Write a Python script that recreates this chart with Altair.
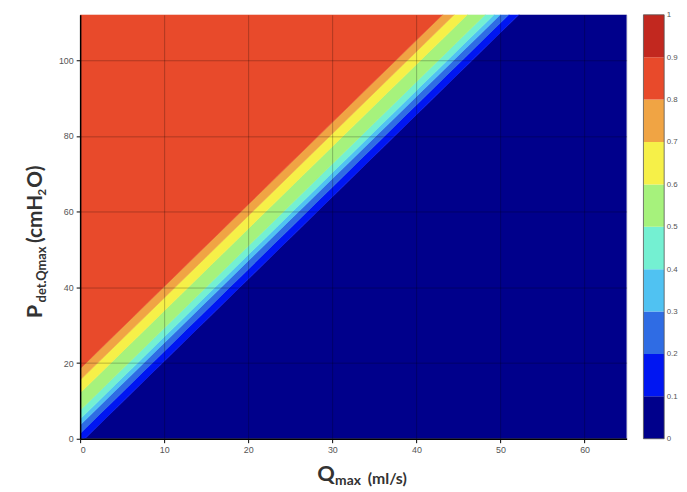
import altair as alt
import pandas as pd

# ---- data ----
x_max = 65          # Qmax axis extent (ml/s)
y_max = 112         # Pdet axis extent (cmH2O)
x_ticks = [0, 10, 20, 30, 40, 50, 60]
y_ticks = [0, 20, 40, 60, 80, 100]

# contour thresholds and the P-intercept (at Q = 0) of each contour line
thresholds = [0.1, 0.2, 0.3, 0.4, 0.5, 0.6, 0.7, 0.8]
intercepts = [-1.2, 1.4, 3.6, 5.2, 7.5, 12.1, 15.5, 18.5]
slope = 2.17        # common slope of the contour lines (cmH2O per ml/s)

levels = [0, 0.1, 0.2, 0.3, 0.4, 0.5, 0.6, 0.7, 0.8, 0.9, 1.0]
band_names = ["0-0.1", "0.1-0.2", "0.2-0.3", "0.3-0.4", "0.4-0.5",
              "0.5-0.6", "0.6-0.7", "0.7-0.8", "0.8-0.9", "0.9-1"]
band_colors = ["#00008b", "#0016f2", "#2f6ce4", "#50c2f2", "#74f0d2",
               "#a6f27c", "#f6f048", "#f0a444", "#e84a2b", "#c2281f"]
cbar_ticks = [0, 0.1, 0.2, 0.3, 0.4, 0.5, 0.6, 0.7, 0.8, 0.9, 1]

# ---- build band polygons from the contour lines ----
rows = []
n_bands_in_plot = len(thresholds) + 1
for i in range(n_bands_in_plot):
    lo_int = intercepts[i - 1] if i > 0 else None
    hi_int = intercepts[i] if i < len(thresholds) else None
    for xv in [0, x_max]:
        ylo = lo_int + slope * xv if lo_int is not None else -1000
        yhi = hi_int + slope * xv if hi_int is not None else 1000
        rows.append({"x": xv, "y": ylo, "y2": yhi, "band": band_names[i]})
band_df = pd.DataFrame(rows)

cbar_df = pd.DataFrame({"lo": levels[:-1], "hi": levels[1:], "band": band_names})

color_scale = alt.Scale(domain=band_names, range=band_colors)

TICK_FONT = "Liberation Sans"
TITLE_FONT = "Lato"

axis_style = dict(title=None, zindex=1, labelPadding=3, tickSize=4,
                  labelFont=TICK_FONT, labelFontSize=9, labelColor="#555555",
                  gridColor="#000000", gridOpacity=0.25, domainColor="#000000",
                  domainWidth=1.5, tickColor="#000000")

bands = alt.Chart(band_df).mark_area(clip=True, strokeWidth=0.6).encode(
    x=alt.X("x:Q", scale=alt.Scale(domain=[0, x_max], nice=False, zero=False),
            axis=alt.Axis(values=x_ticks, **axis_style)),
    y=alt.Y("y:Q", scale=alt.Scale(domain=[0, y_max], nice=False, zero=False),
            axis=alt.Axis(values=y_ticks, **axis_style)),
    y2="y2:Q",
    color=alt.Color("band:N", scale=color_scale, legend=None),
    stroke=alt.Stroke("band:N", scale=color_scale, legend=None),
)

cbar = alt.Chart(cbar_df).mark_rect(clip=False).encode(
    x=alt.value(570), x2=alt.value(591),
    y=alt.Y("lo:Q", scale=alt.Scale(domain=[0, 1], nice=False),
            axis=alt.Axis(orient="right", offset=38, values=cbar_ticks, grid=False,
                          domain=False, ticks=False, labelPadding=2, title=None,
                          format="~g", labelFont=TICK_FONT, labelFontSize=8,
                          labelColor="#555555")),
    y2="hi:Q",
    color=alt.Color("band:N", scale=color_scale, legend=None),
)

cbar_outline = alt.Chart(pd.DataFrame({"lo": [0], "hi": [1]})).mark_rect(
    clip=False, fill=None, stroke="#555555", strokeWidth=0.8).encode(
    x=alt.value(570), x2=alt.value(591),
    y=alt.Y("lo:Q", scale=alt.Scale(domain=[0, 1], nice=False), axis=None),
    y2="hi:Q",
)

one = pd.DataFrame({"k": [0]})


def label(text, x, y, size, angle=0, weight="bold"):
    return alt.Chart(one).mark_text(
        text=text, align="left", baseline="alphabetic", font=TITLE_FONT,
        fontSize=size, fontWeight=weight, color="#333333", angle=angle,
    ).encode(x=alt.value(x), y=alt.value(y))


x_title = [
    label("Q", 240, 472, 22),
    label("max", 258, 476, 14),
    label("(ml/s)", 291, 475, 16),
]
y_title = [
    label("P", -39, 307, 22, angle=270),
    label("det.Qmax", -35, 291, 13, angle=270),
    label("(cmH", -39, 231, 21, angle=270),
    label("2", -35, 183, 12, angle=270),
    label("O)", -39, 175, 21, angle=270),
]

main = alt.layer(bands, *x_title, *y_title)
chart = alt.layer(main, cbar, cbar_outline).resolve_scale(y="independent").properties(
    width=553, height=429,
    autosize=alt.AutoSizeParams(type="none"),
    padding={"left": 73, "top": 4, "right": 53, "bottom": 51},
).configure_view(stroke=None).configure(background="white")

chart.save("out.html", embed_options={"renderer": "svg", "actions": False})
